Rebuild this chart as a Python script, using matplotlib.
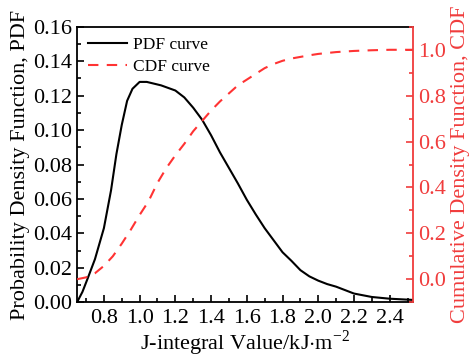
import matplotlib
matplotlib.use('Agg')
import matplotlib.pyplot as plt
from matplotlib.ticker import MultipleLocator

plt.rcParams['font.family'] = ['Liberation Serif', 'DejaVu Serif']
plt.rcParams['mathtext.fontset'] = 'custom'
plt.rcParams['mathtext.rm'] = 'Liberation Serif'

# PDF curve
pdf_x = [0.65, 0.68, 0.71, 0.75, 0.80, 0.84, 0.87, 0.90, 0.93, 0.96, 1.00, 1.04, 1.08,
         1.12, 1.16, 1.20, 1.25, 1.30, 1.35, 1.40, 1.45, 1.50, 1.55, 1.60, 1.65, 1.70,
         1.75, 1.80, 1.85, 1.90, 1.95, 2.00, 2.05, 2.10, 2.15, 2.20, 2.30, 2.40, 2.53]
pdf_y = [0.0, 0.006, 0.014, 0.025, 0.043, 0.065, 0.086, 0.103, 0.117, 0.124, 0.128, 0.128,
         0.127, 0.126, 0.1245, 0.123, 0.119, 0.113, 0.106, 0.097, 0.087, 0.078, 0.069,
         0.0595, 0.051, 0.043, 0.036, 0.029, 0.024, 0.0186, 0.015, 0.0125, 0.0105, 0.009,
         0.007, 0.005, 0.003, 0.002, 0.0013]

# CDF curve
cdf_x = [0.65, 0.70, 0.75, 0.80, 0.85, 0.90, 0.95, 1.00, 1.05, 1.10, 1.15, 1.20, 1.25,
         1.30, 1.35, 1.40, 1.45, 1.50, 1.55, 1.60, 1.65, 1.70, 1.75, 1.80, 1.85, 1.90,
         1.95, 2.00, 2.10, 2.20, 2.30, 2.40, 2.53]
cdf_y = [0.0, 0.008, 0.026, 0.058, 0.10, 0.155, 0.215, 0.28, 0.34, 0.42, 0.485, 0.54,
         0.59, 0.645, 0.69, 0.735, 0.775, 0.81, 0.845, 0.87, 0.895, 0.92, 0.938, 0.952,
         0.962, 0.969, 0.976, 0.982, 0.99, 0.995, 0.998, 1.0, 1.0]

red = '#f03c3c'

fig = plt.figure(figsize=(4.73, 3.58), dpi=100)
ax = fig.add_axes([0.163, 0.156, 0.71, 0.769])
ax2 = ax.twinx()

l1, = ax.plot(pdf_x, pdf_y, color='black', lw=1.5, label='PDF curve')
l2, = ax2.plot(cdf_x, cdf_y, color='#ff3333', lw=1.5, ls=(0, (5, 4)), label='CDF curve')

ax.set_xlim(0.65, 2.53)
ax.set_ylim(0, 0.16)
ax2.set_ylim(-0.1, 1.1)

ax.xaxis.set_minor_locator(MultipleLocator(0.1))
ax.set_xticks([0.8, 1.0, 1.2, 1.4, 1.6, 1.8, 2.0, 2.2, 2.4])
ax.yaxis.set_major_locator(MultipleLocator(0.02))
ax.yaxis.set_minor_locator(MultipleLocator(0.01))
ax.yaxis.set_major_formatter(plt.FormatStrFormatter('%.2f'))
ax2.set_yticks([0.0, 0.2, 0.4, 0.6, 0.8, 1.0])
ax2.yaxis.set_minor_locator(MultipleLocator(0.1))
ax2.yaxis.set_major_formatter(plt.FormatStrFormatter('%.1f'))

ax.tick_params(which='both', direction='in', labelsize=16, width=1.2, top=False, right=False)
ax.tick_params(which='major', length=5)
ax.tick_params(which='minor', length=3)
ax.tick_params(axis='x', pad=5)
ax2.tick_params(which='both', direction='in', labelsize=16, width=1.2, colors=red)
ax2.tick_params(which='major', length=5)
ax2.tick_params(which='minor', length=3)

for s in ax.spines.values():
    s.set_linewidth(1.3)
ax.spines['right'].set_visible(False)
for k in ['left', 'top', 'bottom']:
    ax2.spines[k].set_visible(False)
ax2.spines['right'].set_color(red)
ax2.spines['right'].set_linewidth(1.3)

ax.set_xlabel('J-integral Value/kJ$\\cdot$m$^{-2}$', fontsize=16, labelpad=0)
ax.set_ylabel('Probability Density Function, PDF', fontsize=16, labelpad=2)
ax2.set_ylabel('Cumulative Density Function, CDF', fontsize=16, color=red, labelpad=4)

ax.legend([l1, l2], ['PDF curve', 'CDF curve'], loc='upper left', frameon=False,
          fontsize=12.5, handlelength=2.3, handletextpad=0.3, borderaxespad=0.2,
          labelspacing=0.3)

fig.savefig('out.png', dpi=100)
